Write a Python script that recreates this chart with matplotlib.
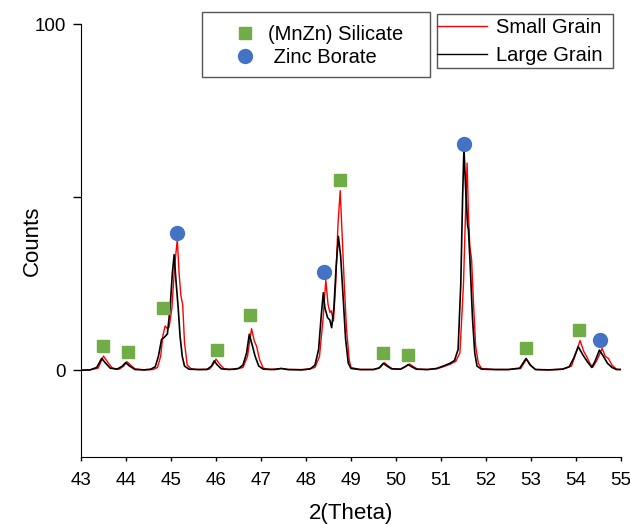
import matplotlib
matplotlib.use("Agg")
import matplotlib.pyplot as plt
from matplotlib.lines import Line2D
from matplotlib.patches import Rectangle

plt.rcParams['font.family'] = ['Liberation Sans', 'DejaVu Sans']

W, H = 630, 524

# large grain (black) pattern
large_x = [43.0, 43.2, 43.35, 43.46, 43.55, 43.65, 43.8, 43.92, 43.99, 44.08,
           44.2, 44.4, 44.55, 44.65, 44.72, 44.79, 44.85, 44.92, 44.98, 45.03,
           45.07, 45.11, 45.16, 45.2, 45.25, 45.3, 45.4, 45.6, 45.8, 45.9,
           45.96, 46.03, 46.12, 46.3, 46.5, 46.6, 46.68, 46.74, 46.8, 46.87,
           46.95, 47.05, 47.3, 47.45, 47.6, 47.9, 48.1, 48.2, 48.28, 48.34,
           48.385, 48.42, 48.48, 48.53, 48.57, 48.62, 48.67, 48.72, 48.77, 48.83,
           48.88, 48.94, 49.0, 49.2, 49.5, 49.62, 49.72, 49.8, 49.9, 50.1,
           50.2, 50.27, 50.35, 50.45, 50.7, 50.9, 51.05, 51.2, 51.3, 51.38,
           51.44, 51.48, 51.51, 51.55, 51.59, 51.61, 51.65, 51.7, 51.75, 51.8,
           51.9, 52.2, 52.5, 52.75, 52.89, 52.98, 53.1, 53.4, 53.7, 53.85,
           53.95, 54.05, 54.15, 54.25, 54.35, 54.42, 54.52, 54.6, 54.7, 54.8,
           54.9, 55.0]
large_y = [0.0, 0.1, 0.8, 3.4, 2.0, 0.6, 0.3, 1.2, 2.2, 1.2,
           0.2, 0.1, 0.3, 1.0, 4.0, 8.9, 9.5, 10.5, 18.0, 28.0,
           33.4, 26.0, 18.0, 10.0, 4.0, 1.2, 0.3, 0.2, 0.2, 1.2,
           2.7, 1.5, 0.4, 0.2, 0.5, 1.5, 5.0, 10.4, 7.5, 4.0,
           1.2, 0.3, 0.2, 0.5, 0.2, 0.1, 0.4, 1.5, 6.0, 16.0,
           22.4, 18.0, 15.2, 14.5, 12.3, 18.0, 30.0, 38.7, 33.0, 20.0,
           9.0, 2.0, 0.5, 0.2, 0.2, 0.6, 2.0, 1.2, 0.4, 0.3,
           1.0, 1.6, 1.0, 0.3, 0.2, 0.5, 1.2, 2.0, 2.8, 6.0,
           25.0, 50.0, 64.2, 52.0, 42.0, 40.6, 30.0, 15.0, 5.0, 1.2,
           0.3, 0.2, 0.2, 0.6, 3.4, 1.5, 0.2, 0.1, 0.3, 1.0,
           3.5, 6.8, 4.5, 2.5, 0.8, 2.5, 5.8, 4.2, 2.0, 0.8,
           0.2, 0.2]

# small grain (red) pattern
small_x = [43.0, 43.2, 43.38, 43.5, 43.6, 43.7, 43.85, 43.95, 44.02, 44.1,
           44.2, 44.4, 44.6, 44.7, 44.77, 44.82, 44.87, 44.92, 44.96, 45.02,
           45.08, 45.14, 45.18, 45.22, 45.26, 45.3, 45.36, 45.45, 45.6, 45.85,
           45.93, 46.0, 46.08, 46.18, 46.4, 46.6, 46.7, 46.79, 46.85, 46.9,
           46.97, 47.05, 47.2, 47.45, 47.6, 48.0, 48.2, 48.3, 48.38, 48.44,
           48.49, 48.53, 48.56, 48.61, 48.66, 48.71, 48.76, 48.8, 48.85, 48.9,
           48.96, 49.0, 49.2, 49.5, 49.65, 49.74, 49.82, 49.92, 50.1, 50.22,
           50.3, 50.38, 50.48, 50.7, 50.9, 51.05, 51.2, 51.33, 51.42, 51.5,
           51.55, 51.58, 51.61, 51.64, 51.68, 51.72, 51.77, 51.83, 51.9, 52.2,
           52.5, 52.77, 52.9, 53.0, 53.1, 53.4, 53.7, 53.9, 54.0, 54.09,
           54.17, 54.24, 54.3, 54.37, 54.47, 54.58, 54.65, 54.72, 54.8, 54.9,
           55.0]
small_y = [0.0, 0.1, 0.6, 4.1, 2.2, 0.6, 0.3, 1.2, 2.5, 1.5,
           0.4, 0.1, 0.2, 0.8, 4.0, 10.0, 12.8, 12.0, 12.5, 18.0,
           30.0, 37.8, 28.0, 21.5, 19.0, 8.0, 1.5, 0.4, 0.2, 0.3,
           1.5, 3.2, 1.8, 0.4, 0.2, 0.8, 4.0, 12.0, 8.5, 7.0,
           3.0, 0.6, 0.2, 0.5, 0.2, 0.2, 0.8, 4.0, 15.0, 26.0,
           19.0, 16.7, 17.2, 14.2, 25.0, 42.0, 51.9, 40.0, 25.0, 12.0,
           3.0, 0.8, 0.2, 0.2, 0.8, 2.2, 1.3, 0.4, 0.3, 1.1,
           1.8, 1.1, 0.3, 0.2, 0.4, 1.0, 1.7, 2.6, 5.0, 25.0,
           48.0, 59.9, 45.0, 36.0, 32.0, 20.0, 7.0, 2.0, 0.5, 0.2,
           0.2, 0.5, 3.2, 1.4, 0.2, 0.1, 0.3, 1.2, 5.0, 8.6,
           5.5, 3.9, 2.2, 0.8, 3.0, 6.3, 4.0, 3.4, 1.5, 0.3,
           0.2]

# phase markers
silicate_x = [43.48, 44.05, 44.83, 46.02, 46.76, 48.76, 49.72, 50.27, 52.89, 54.07]
silicate_y = [7.0, 5.3, 17.9, 5.8, 16.1, 55.0, 4.9, 4.5, 6.5, 11.5]
borate_x = [45.14, 48.41, 51.52, 54.54]
borate_y = [39.7, 28.3, 65.4, 8.6]

green = '#70AD47'
blue = '#4472C4'

fig = plt.figure(figsize=(W / 100, H / 100), dpi=100)
ax = fig.add_axes([81 / W, 1 - 456.7 / H, 540 / W, (456.7 - 24.3) / H])

ax.plot(small_x, small_y, color='#FF0000', lw=1.0, zorder=2)
ax.plot(large_x, large_y, color='black', lw=1.2, zorder=3)
ax.plot(silicate_x, silicate_y, 's', color=green, ms=9, zorder=4)
ax.plot(borate_x, borate_y, 'o', color=blue, ms=10, zorder=4)

ax.set_xlim(43, 55)
ax.set_ylim(-25, 100)
ax.set_xticks(range(43, 56))
ax.set_yticks([0, 100])
ax.set_yticks([50], minor=True)
ax.spines['top'].set_visible(False)
ax.spines['right'].set_visible(False)
ax.tick_params(axis='x', length=3, width=1, labelsize=13.5, pad=8)
ax.tick_params(axis='y', which='major', length=6, width=1, labelsize=13.5, pad=5)
ax.tick_params(axis='y', which='minor', length=6, width=1)
ax.set_xlabel('2(Theta)', fontsize=16, labelpad=10)
ax.set_ylabel('Counts', fontsize=16)
ax.yaxis.set_label_coords(-0.07, 0.5)


def fx(px):
    return px / W


def fy(py):
    return 1 - py / H


# legend frames
for x0, y0, x1, y1 in [(202, 12, 430, 77), (437, 14, 613, 68)]:
    fig.patches.append(Rectangle((fx(x0), fy(y1)), fx(x1) - fx(x0), fy(y0) - fy(y1),
                                 transform=fig.transFigure, fill=False,
                                 edgecolor='#555555', lw=1.0))

h1 = [Line2D([], [], ls='none', marker='s', color=green, ms=9),
      Line2D([], [], ls='none', marker='o', color=blue, ms=10)]
leg1 = fig.legend(h1, ['(MnZn) Silicate', ' Zinc Borate'], loc='upper left',
                  bbox_to_anchor=(fx(235), fy(25)), frameon=False, fontsize=14.5,
                  borderpad=0, borderaxespad=0, handlelength=1.0,
                  handletextpad=0.65, labelspacing=0.2)

h2 = [Line2D([], [], color='#FF0000', lw=1.0),
      Line2D([], [], color='black', lw=1.0)]
leg2 = fig.legend(h2, ['Small Grain', 'Large Grain'], loc='upper left',
                  bbox_to_anchor=(fx(437), fy(18)), frameon=False, fontsize=14.5,
                  borderpad=0, borderaxespad=0, handlelength=2.49,
                  handletextpad=0.45, labelspacing=0.45)

fig.savefig('out.png', dpi=100)
